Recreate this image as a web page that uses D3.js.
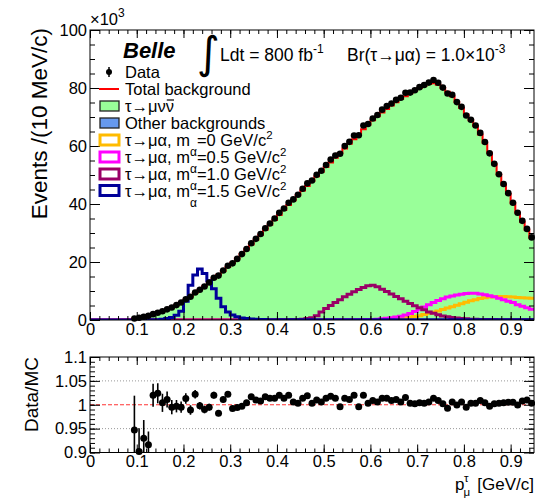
<!DOCTYPE html>
<html><head><meta charset="utf-8">
<script src="https://cdn.jsdelivr.net/npm/d3@7"></script>
<style>
body{margin:0;background:#fff}
svg{display:block}
text{font-family:"Liberation Sans",Arial,Helvetica,sans-serif;fill:#000}
</style>
</head><body><svg id="c" width="535" height="502"></svg>
<script>
// ---------------- data (k events per 10 MeV/c bin) ----------------
const binEdges = d3.range(0, 96).map(i => i / 100); // 95 bins, 0 - 0.95 GeV/c

const tauMuNuNu = [
 0,0,0.01,0.02,0.04,0.07,0.12,0.2,0.35,0.55,
 0.85,1.2,1.55,1.95,2.4,2.95,3.6,4.3,5.1,6.0,
 7.0,8.05,9.2,10.4,11.6,12.9,14.2,15.5,16.8,18.2,
 19.6,21.1,22.7,24.3,25.9,27.6,29.3,31.0,32.7,34.4,
 36.1,37.8,39.5,41.2,42.9,44.5,46.1,47.8,49.4,51.0,
 52.6,54.2,55.8,57.4,59.0,60.6,62.2,63.8,65.6,67.2,
 68.7,70.1,71.4,72.6,73.8,74.9,76.0,77.0,78.0,78.9,
 79.8,80.6,81.2,81.5,80.9,79.8,78.5,77.0,75.0,72.9,
 70.7,68.7,66.7,63.8,61.0,57.5,53.6,50.0,46.6,43.4,
 40.1,36.9,33.8,31.0,28.3];

const otherBkg = [
 0,0,0,0,0,0,0,0,0,0,
 0.02,0.02,0.02,0.03,0.03,0.03,0.04,0.04,0.05,0.05,
 0.06,0.06,0.07,0.07,0.08,0.08,0.09,0.09,0.1,0.1,
 0.1,0.1,0.1,0.11,0.11,0.11,0.12,0.12,0.12,0.12,
 0.13,0.13,0.13,0.13,0.14,0.14,0.14,0.14,0.15,0.15,
 0.15,0.15,0.15,0.16,0.16,0.16,0.16,0.16,0.17,0.17,
 0.17,0.17,0.17,0.17,0.18,0.18,0.18,0.18,0.18,0.18,
 0.18,0.18,0.18,0.18,0.18,0.18,0.17,0.17,0.17,0.17,
 0.16,0.16,0.16,0.15,0.15,0.14,0.14,0.13,0.13,0.12,
 0.12,0.11,0.11,0.1,0.1];

const sigM00 = [
 0,0,0,0,0,0,0,0,0,0, 0,0,0,0,0,0,0,0,0,0,
 0,0,0,0,0,0,0,0,0,0, 0,0,0,0,0,0,0,0,0,0,
 0,0,0,0,0,0,0,0,0,0, 0,0,0,0,0,0,0,0,0,0,
 0.03,0.06,0.1,0.2,0.3,0.45,0.6,0.8,1.0,1.25,
 1.5,1.9,2.3,2.7,3.1,3.6,4.1,4.6,5.1,5.6,
 6.1,6.6,7.0,7.4,7.7,7.9,8.0,8.1,8.1,8.0,
 7.9,7.8,7.7,7.6,7.5];

const sigM05 = [
 0,0,0,0,0,0,0,0,0,0, 0,0,0,0,0,0,0,0,0,0,
 0,0,0,0,0,0,0,0,0,0, 0,0,0,0,0,0,0,0,0,0,
 0,0,0,0,0,0,0,0,0,0,
 0.03,0.04,0.05,0.06,0.07,0.08,0.1,0.12,0.14,0.17,
 0.2,0.3,0.4,0.6,0.8,1.0,1.3,1.7,2.2,2.9,
 3.7,4.5,5.3,6.0,6.7,7.3,7.9,8.3,8.6,8.9,
 9.1,9.2,9.2,9.0,8.7,8.4,8.0,7.5,7.0,6.5,
 6.0,5.3,4.7,4.2,3.7];

const sigM10 = [
 0,0,0,0,0,0,0,0,0,0, 0,0,0,0,0,0,0,0,0,0,
 0,0,0,0,0,0,0,0,0,0, 0,0,0,0,0,0,0,0,0,0,
 0.05,0.08,0.1,0.15,0.2,0.3,0.5,0.8,1.5,2.8,
 4.0,5.0,6.0,7.0,8.0,8.9,9.7,10.5,11.2,11.8,
 12.0,11.5,10.6,9.8,9.0,8.1,7.3,6.5,5.7,4.9,
 4.2,3.5,2.8,2.3,1.8,1.4,1.1,0.9,0.7,0.5,
 0.4,0.3,0.25,0.2,0.2,0.15,0.15,0.1,0.1,0.1,
 0.08,0.08,0.05,0.05,0.05];

const sigM15 = [
 0,0,0,0,0,0,0,0,0,0,
 0,0,0,0.05,0.1,0.3,0.5,0.9,1.6,3.0,
 6.5,12.0,15.5,17.6,16.0,13.5,10.8,7.5,4.6,2.8,
 1.7,1.1,0.7,0.5,0.35,0.25,0.2,0.15,0.12,0.1,
 0.08,0.08,0.07,0.07,0.06,0.06,0.06,0.05,0.05,0.05,
 0.05,0.05,0.05,0.05,0.05,0.05,0.05,0.05,0.05,0.05,
 0.05,0.05,0.05,0.05,0.05,0.05,0.05,0.05,0.05,0.05,
 0.05,0.05,0.05,0.05,0.05,0.05,0.05,0.05,0.05,0.05,
 0.05,0.05,0.05,0.05,0.05,0.05,0.05,0.05,0.05,0.05,
 0.05,0.05,0.05,0.05,0.05];

// Data / MC for bins 9..94
const firstDataBin = 9;
const ratio = [
 0.947,0.902,0.930,0.916,1.020,1.024,1.004,1.011,0.995,0.997,
 0.995,1.013,0.989,1.022,0.998,0.990,0.995,1.020,0.982,1.011,
 1.022,0.992,0.994,0.997,1.004,1.017,1.010,1.008,1.017,1.0135,
 1.0135,1.020,1.0135,1.020,1.006,1.003,1.0135,1.019,1.003,1.010,
 1.006,1.0135,1.018,1.0135,0.996,1.0135,1.011,1.020,0.996,1.020,
 1.003,1.009,1.006,1.0135,1.0135,1.009,1.011,1.006,1.015,1.003,
 1.002,1.004,1.003,1.006,1.0135,1.009,1.002,0.9925,1.006,0.9995,
 1.006,0.995,1.003,1.003,1.009,1.004,0.997,1.002,1.003,1.004,
 1.005,1.005,0.9995,1.008,1.010,1.003];
const ratioErr = [
 0.072,0.049,0.038,0.028,0.024,0.021,0.019,0.017,0.015,0.013,
 0.012,0.011,0.010,0.009,0.008,0.008,0.007,0.007,0.006,0.006,
 0.006,0.005,0.005,0.005,0.005,0.004,0.004,0.004,0.004,0.004,
 0.004,0.004,0.004,0.003,0.003,0.003,0.003,0.003,0.003,0.003,
 0.003,0.003,0.003,0.003,0.003,0.003,0.003,0.003,0.003,0.003,
 0.003,0.003,0.003,0.003,0.003,0.003,0.003,0.003,0.003,0.003,
 0.003,0.003,0.003,0.003,0.003,0.003,0.003,0.003,0.003,0.003,
 0.003,0.003,0.003,0.003,0.003,0.003,0.003,0.003,0.003,0.003,
 0.003,0.003,0.003,0.003,0.003,0.003];

const xTickValues = [0,0.1,0.2,0.3,0.4,0.5,0.6,0.7,0.8,0.9];
const xTickLabels = ["0","0.1","0.2","0.3","0.4","0.5","0.6","0.7","0.8","0.9"];
const yTickValues = [0,20,40,60,80,100];
const yTickLabels = ["0","20","40","60","80","100"];
const rTickValues = [0.9,0.95,1,1.05,1.1];
const rTickLabels = ["0.9","0.95","1","1.05","1.1"];

const legendItems = [
 {kind:"marker", color:"#000", parts:[["Data"]]},
 {kind:"line", color:"#ff0000", parts:[["Total background"]]},
 {kind:"fill", color:"#99ff99", parts:[["τ→μνν"]], bar:true},
 {kind:"fill", color:"#6699ee", parts:[["Other backgrounds"]]},
 {kind:"box", color:"#ffbb00", parts:[["τ→μα, m"],["α","sub"],["=0 GeV/c"],["2","sup"]]},
 {kind:"box", color:"#ff00ff", parts:[["τ→μα, m"],["α","sub"],["=0.5 GeV/c"],["2","sup"]]},
 {kind:"box", color:"#990066", parts:[["τ→μα, m"],["α","sub"],["=1.0 GeV/c"],["2","sup"]]},
 {kind:"box", color:"#000099", parts:[["τ→μα, m"],["α","sub"],["=1.5 GeV/c"],["2","sup"]]}
];

// ---------------- drawing ----------------
const svg = d3.select("#c");
const X0 = 90, X1 = 534, T0 = 30, T1 = 320, R0 = 357, R1 = 452.5;
const x = d3.scaleLinear().domain([0, 0.95]).range([X0, X1]);
const y = d3.scaleLinear().domain([0, 100]).range([T1, T0]);
const yr = d3.scaleLinear().domain([0.9, 1.1]).range([R1, R0]);

const total = tauMuNuNu.map((v, i) => v + otherBkg[i]);

svg.append("clipPath").attr("id", "clipTop")
  .append("rect").attr("x", X0).attr("y", T0).attr("width", X1 - X0).attr("height", T1 - T0);

const topG = svg.append("g").attr("clip-path", "url(#clipTop)");

function stepPts(lo, hi) {
  const p = [];
  hi.forEach((v, i) => { p.push([binEdges[i], lo ? lo[i] : 0, v]); p.push([binEdges[i + 1], lo ? lo[i] : 0, v]); });
  return p;
}
const area = d3.area().x(d => x(d[0])).y0(d => y(d[1])).y1(d => y(d[2]));
const line = d3.line().x(d => x(d[0])).y(d => y(d[2]));

topG.append("path").attr("d", area(stepPts(otherBkg, total))).attr("fill", "#99ff99");
topG.append("path").attr("d", area(stepPts(null, otherBkg))).attr("fill", "#6699ee");
topG.append("path").attr("d", line(stepPts(null, total))).attr("fill", "none")
  .attr("stroke", "#ff0000").attr("stroke-width", 2);

[[sigM00, "#ffbb00"], [sigM05, "#ff00ff"], [sigM10, "#990066"], [sigM15, "#000099"]].forEach(([s, c]) => {
  topG.append("path").attr("d", line(stepPts(null, s))).attr("fill", "none")
    .attr("stroke", c).attr("stroke-width", 3);
});

const dataPts = ratio.map((r, k) => {
  const i = k + firstDataBin;
  return {xc: (binEdges[i] + binEdges[i + 1]) / 2, v: total[i] * r, r: r, e: ratioErr[k]};
});
svg.append("g").selectAll("circle").data(dataPts).join("circle")
  .attr("cx", d => x(d.xc)).attr("cy", d => y(d.v)).attr("r", 3.3).attr("fill", "#000");

// ---------- axes helper ----------
function axes(yScale, yt, yl, yMinor, yTop, yBot, labelX) {
  const xMinor = d3.range(0, 0.951, 0.02);
  const g = svg.append("g");
  const ax = (gen) => {
    const a = g.append("g");
    a.call(gen);
    a.select(".domain").remove();
    a.selectAll("text").style("font-size", "16.5px").style("font-family", '"Liberation Sans",Arial,sans-serif').attr("fill", "#000");
    a.selectAll("line").attr("stroke", "#000");
    return a;
  };
  ax(d3.axisBottom(x).tickValues(xTickValues).tickSize(-8).tickPadding(3)
      .tickFormat((d, i) => labelX ? xTickLabels[i] : "")).attr("transform", `translate(0,${yBot})`);
  ax(d3.axisBottom(x).tickValues(xMinor).tickSize(-4).tickFormat("")).attr("transform", `translate(0,${yBot})`);
  ax(d3.axisTop(x).tickValues(xTickValues).tickSize(-8).tickFormat("")).attr("transform", `translate(0,${yTop})`);
  ax(d3.axisTop(x).tickValues(xMinor).tickSize(-4).tickFormat("")).attr("transform", `translate(0,${yTop})`);
  ax(d3.axisLeft(yScale).tickValues(yt).tickSize(-10).tickPadding(3).tickFormat((d, i) => yl[i]))
    .attr("transform", `translate(${X0},0)`);
  ax(d3.axisLeft(yScale).tickValues(yMinor).tickSize(-5).tickFormat("")).attr("transform", `translate(${X0},0)`);
  ax(d3.axisRight(yScale).tickValues(yt).tickSize(-10).tickFormat("")).attr("transform", `translate(${X1},0)`);
  ax(d3.axisRight(yScale).tickValues(yMinor).tickSize(-5).tickFormat("")).attr("transform", `translate(${X1},0)`);
  g.append("rect").attr("x", X0).attr("y", yTop).attr("width", X1 - X0).attr("height", yBot - yTop)
    .attr("fill", "none").attr("stroke", "#000").attr("stroke-width", 1);
}
axes(y, yTickValues, yTickLabels, d3.range(0, 100.1, 5), T0, T1, true);

// ---------- ratio panel ----------
const rp = svg.append("g");
[0.95, 1.05].forEach(v => rp.append("line").attr("x1", X0).attr("x2", X1).attr("y1", yr(v)).attr("y2", yr(v))
  .attr("stroke", "#999").attr("stroke-width", 1).attr("stroke-dasharray", "1,2"));
rp.append("line").attr("x1", X0).attr("x2", X1).attr("y1", yr(1)).attr("y2", yr(1))
  .attr("stroke", "#ff0000").attr("stroke-width", 1).attr("stroke-dasharray", "4,2").attr("opacity", 0.8);
rp.selectAll("line.err").data(dataPts).join("line").attr("class", "err")
  .attr("x1", d => x(d.xc)).attr("x2", d => x(d.xc))
  .attr("y1", d => yr(Math.min(1.1, d.r + d.e))).attr("y2", d => yr(Math.max(0.9, d.r - d.e)))
  .attr("stroke", "#000").attr("stroke-width", 1.6);
rp.selectAll("circle").data(dataPts).join("circle")
  .attr("cx", d => x(d.xc)).attr("cy", d => yr(d.r)).attr("r", 3.5).attr("fill", "#000");
axes(yr, rTickValues, rTickLabels, d3.range(0.9, 1.1001, 0.01), R0, R1, true);

// ---------- titles ----------
svg.append("text").attr("transform", "translate(47,28) rotate(-90)").attr("text-anchor", "end")
  .style("font-size", "22.5px").text("Events /(10 MeV/c)");
svg.append("text").attr("transform", `translate(38,${R0}) rotate(-90)`).attr("text-anchor", "end")
  .style("font-size", "19px").text("Data/MC");

const mult = svg.append("text").attr("x", 90).attr("y", 25).style("font-size", "16.5px");
mult.append("tspan").text("×10");
mult.append("tspan").attr("dy", -8).style("font-size", "12px").text("3");

// x title
svg.append("text").attr("x", 534).attr("y", 490).attr("text-anchor", "end").style("font-size", "17px")
  .text("[GeV/c]");
svg.append("text").attr("x", 455).attr("y", 490).style("font-size", "17px").text("p");
svg.append("text").attr("x", 464).attr("y", 482).style("font-size", "11.5px").text("τ");
svg.append("text").attr("x", 463.5).attr("y", 496).style("font-size", "11.5px").text("μ");

// header
svg.append("text").attr("x", 123).attr("y", 58).style("font-size", "22px")
  .style("font-weight", "bold").style("font-style", "italic").text("Belle");
svg.append("text").attr("x", 197).attr("y", 68).style("font-size", "44px").style("font-family", "DejaVu Sans").text("∫");
const l1 = svg.append("text").attr("x", 220).attr("y", 61).style("font-size", "17.5px");
l1.append("tspan").text("Ldt = 800 fb");
l1.append("tspan").attr("dy", -8).style("font-size", "12px").text("-1");
const l2 = svg.append("text").attr("x", 347).attr("y", 61).style("font-size", "17.5px");
l2.append("tspan").text("Br(τ→μα) = 1.0×10");
l2.append("tspan").attr("dy", -8).style("font-size", "12px").text("-3");

// legend
const legRows = [72, 89, 106, 123, 140, 157, 174, 190.5];
const leg = svg.append("g");
legendItems.forEach((it, k) => {
  const cy = legRows[k];
  if (it.kind === "marker") {
    leg.append("line").attr("x1", 109).attr("x2", 109).attr("y1", cy - 5).attr("y2", cy + 5).attr("stroke", "#000").attr("stroke-width", 1.5);
    leg.append("circle").attr("cx", 109).attr("cy", cy).attr("r", 3).attr("fill", "#000");
  } else if (it.kind === "line") {
    leg.append("line").attr("x1", 99).attr("x2", 119).attr("y1", cy).attr("y2", cy).attr("stroke", it.color).attr("stroke-width", 2);
  } else if (it.kind === "fill") {
    leg.append("rect").attr("x", 100).attr("y", cy - 5).attr("width", 19).attr("height", 10)
      .attr("fill", it.color).attr("stroke", "#222").attr("stroke-width", 1.3);
  } else {
    leg.append("rect").attr("x", 100).attr("y", cy - 5).attr("width", 19).attr("height", 10)
      .attr("fill", "none").attr("stroke", it.color).attr("stroke-width", 3);
  }
  const t = leg.append("text").attr("x", 125).attr("y", cy + 6).style("font-size", "16.5px");
  let off = 0;
  it.parts.forEach(([s, m]) => {
    const ts = t.append("tspan").text(s);
    let target = 0;
    if (m === "sub") { target = 10; ts.style("font-size", "12px"); }
    if (m === "sup") { target = -7; ts.style("font-size", "11.5px"); }
    if (target !== off) { ts.attr("dy", target - off); off = target; }
  });
  if (it.bar) {
    const n = t.node().getNumberOfChars();
    const a = t.node().getStartPositionOfChar(n - 1), b = t.node().getEndPositionOfChar(n - 1);
    leg.append("line").attr("x1", a.x + 1).attr("x2", b.x).attr("y1", cy - 6).attr("y2", cy - 6)
      .attr("stroke", "#000").attr("stroke-width", 1.2);
  }
});
</script>
</body></html>
